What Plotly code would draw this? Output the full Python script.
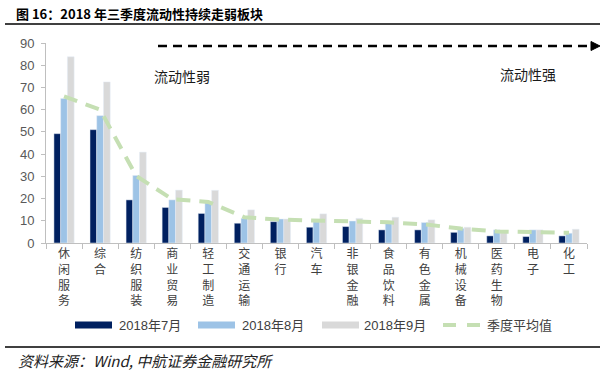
import plotly.graph_objects as go

categories = ["休闲服务", "综合", "纺织服装", "商业贸易", "轻工制造", "交通运输", "银行", "汽车",
              "非银金融", "食品饮料", "有色金属", "机械设备", "医药生物", "电子", "化工"]
jul = [49.2, 51.0, 19.4, 16.0, 13.3, 8.9, 9.6, 7.1, 7.4, 5.9, 5.9, 4.8, 3.2, 2.9, 3.2]
aug = [65.0, 57.3, 30.4, 19.4, 18.4, 11.1, 10.8, 9.6, 9.9, 8.9, 9.2, 6.6, 5.9, 5.9, 4.4]
sep = [83.8, 72.5, 40.9, 23.8, 23.7, 14.9, 10.8, 13.1, 11.1, 11.6, 10.4, 7.1, 5.6, 5.9, 6.2]
avg = [66.0, 60.0, 30.2, 19.7, 18.5, 11.6, 10.5, 10.2, 9.8, 9.3, 8.4, 6.5, 5.2, 4.9, 4.6]
series_names = ["2018年7月", "2018年8月", "2018年9月", "季度平均值"]
y_ticks = [0, 10, 20, 30, 40, 50, 60, 70, 80, 90]

tick_text = ["<br>".join(list(c)) for c in categories]

C_DARK = "#002060"
C_LIGHT = "#9dc3e6"
C_GRAY = "#d9d9d9"
C_GREEN = "#c5dfb3"

W, H = 608, 374
L, R, T, B = 46, 21, 43, 131
PW, PH = W - L - R, H - T - B


def px(x):
    return (x - L) / PW


def py(y):
    return (H - B - y) / PH


fig = go.Figure()
fig.add_trace(go.Bar(x=categories, y=jul, name=series_names[0], marker_color=C_DARK))
fig.add_trace(go.Bar(x=categories, y=aug, name=series_names[1], marker_color=C_LIGHT))
fig.add_trace(go.Bar(x=categories, y=sep, name=series_names[2], marker_color=C_GRAY))
fig.add_trace(go.Scatter(x=categories, y=avg, name=series_names[3], mode="lines",
                         line=dict(color=C_GREEN, width=4, dash="14px,9px")))

shapes = []
annotations = []
# title underline and bottom line
shapes.append(dict(type="line", xref="paper", yref="paper", x0=px(5), x1=px(600),
                   y0=py(24), y1=py(24), line=dict(color="black", width=1.5)))
shapes.append(dict(type="line", xref="paper", yref="paper", x0=px(5), x1=px(600),
                   y0=py(347), y1=py(347), line=dict(color="black", width=1.5)))
# dashed arrow
shapes.append(dict(type="line", xref="paper", yref="paper", x0=px(158), x1=px(592),
                   y0=py(46), y1=py(46), line=dict(color="black", width=2.5, dash="9px,6px")))
shapes.append(dict(type="path", xref="paper", yref="paper",
                   path=f"M {px(591)} {py(41.5)} L {px(600)} {py(46)} L {px(591)} {py(50.5)} Z",
                   fillcolor="black", line=dict(color="black", width=1)))

annotations.append(dict(text="流动性弱", xref="paper", yref="paper", x=px(182), y=py(75.5),
                        xanchor="center", yanchor="middle", showarrow=False,
                        font=dict(size=14, color="#1a1a1a", family="Noto Sans CJK SC")))
annotations.append(dict(text="流动性强", xref="paper", yref="paper", x=px(528), y=py(73.5),
                        xanchor="center", yanchor="middle", showarrow=False,
                        font=dict(size=14, color="#1a1a1a", family="Noto Sans CJK SC")))

# title as annotation for precise placement
annotations.append(dict(text="<b>图 16：2018 年三季度流动性持续走弱板块</b>", xref="paper", yref="paper",
                        x=px(14), y=py(13), xanchor="left", yanchor="middle", showarrow=False,
                        font=dict(size=13, color="black", family="Noto Sans CJK SC")))

# custom legend
leg_y = 325
leg_font = dict(size=13, color="#404040", family="Liberation Sans, Noto Sans CJK SC")
swatches = [(75, 112, C_DARK, 117), (198, 235, C_LIGHT, 240), (322, 359, C_GRAY, 362)]
for (x0, x1, col, tx), name in zip(swatches, series_names[:3]):
    shapes.append(dict(type="rect", xref="paper", yref="paper", x0=px(x0), x1=px(x1),
                       y0=py(leg_y - 3.5), y1=py(leg_y + 3.5), fillcolor=col,
                       line=dict(width=0)))
    annotations.append(dict(text=name, xref="paper", yref="paper", x=px(tx), y=py(leg_y),
                            xanchor="left", yanchor="middle", showarrow=False, font=leg_font))
for x0, x1 in [(443, 456), (467, 480)]:
    shapes.append(dict(type="line", xref="paper", yref="paper", x0=px(x0), x1=px(x1),
                       y0=py(leg_y), y1=py(leg_y), line=dict(color=C_GREEN, width=4)))
annotations.append(dict(text=series_names[3], xref="paper", yref="paper", x=px(485), y=py(leg_y),
                        xanchor="left", yanchor="middle", showarrow=False, font=leg_font))

# source
annotations.append(dict(text="<i>资料来源：Wind, 中航证券金融研究所</i>", xref="paper", yref="paper",
                        x=px(16), y=py(360), xanchor="left", yanchor="middle", showarrow=False,
                        font=dict(size=15, color="#222222", family="Noto Sans CJK SC")))

fig.update_layout(
    width=W, height=H,
    margin=dict(l=L, r=R, t=T, b=B, pad=0),
    paper_bgcolor="white", plot_bgcolor="white",
    barmode="group", bargap=0.44, bargroupgap=0,
    showlegend=False,
    shapes=shapes, annotations=annotations,
    font=dict(family="Liberation Sans, Noto Sans CJK SC"),
)
fig.update_xaxes(type="category", tickmode="array", tickvals=categories, ticktext=tick_text,
                 tickson="boundaries", ticks="outside", ticklen=5, tickcolor="#bfbfbf",
                 showline=True, linecolor="#bfbfbf", linewidth=1, showgrid=False,
                 tickfont=dict(size=12, color="#404040", family="Noto Sans CJK SC"),
                 tickangle=0)
fig.update_yaxes(range=[0, 90], tickvals=y_ticks, showgrid=False, zeroline=False,
                 showline=True, linecolor="#bfbfbf", linewidth=1,
                 ticks="outside", ticklen=4, tickcolor="#bfbfbf", ticklabelstandoff=4,
                 tickfont=dict(size=13, color="#595959", family="Liberation Sans"))

fig.write_html("out.html", config={"displayModeBar": False},
               post_script="document.body.style.margin='0px';document.body.style.overflow='hidden';")
